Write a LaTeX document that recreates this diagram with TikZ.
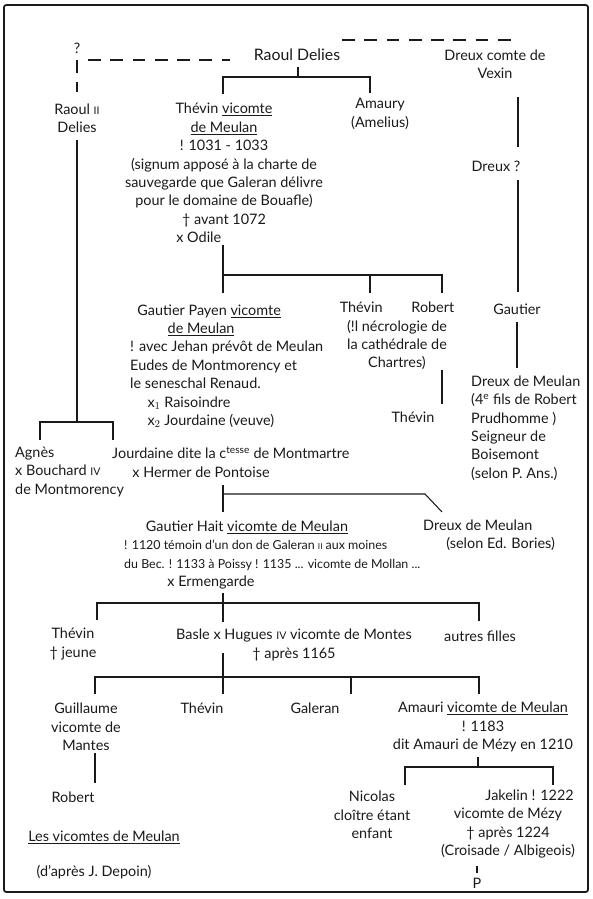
\documentclass[tikz,border=0pt]{standalone}
\usepackage{fontspec}
\setmainfont{Lato}
\definecolor{inkline}{HTML}{1A1A1A}
\newcommand{\notesize}{\fontsize{10.6}{15.7}\selectfont}

\begin{document}
\begin{tikzpicture}[
  x=0.03cm,
  y=-0.03cm,
  every node/.style={inner sep=0pt, text=inkline, font=\fontsize{12.3}{15.7}\selectfont},
  person/.style={align=center},
  lperson/.style={align=left, anchor=west},
  link/.style={draw=inkline, line width=0.9pt},
  unsure/.style={link, dash pattern=on 11pt off 8pt}
]
  \useasboundingbox[fill=white] (0,0) rectangle (593,899);
  \draw[inkline, line width=1.5pt, rounded corners=2pt] (4,5) rectangle (588,892);

  % --- generation of Raoul Delies
  \node (q) at (77,48) {?};
  \node (raoulD) at (297,55) {\fontsize{13.5}{15.7}\selectfont Raoul Delies};
  \node[person] (dreuxV) at (495,64) {Dreux comte de\\Vexin};
  \node[person] (raoul2) at (77,118) {Raoul {\small II}\\Delies};
  \node[person] (thevinA) at (224,173) {Thévin \underline{vicomte}\\\underline{de Meulan}\\! 1031 - 1033\\(signum apposé à la charte de\\sauvegarde que Galeran délivre\\pour le domaine de Bouafle)\\† avant 1072\\x Odile\hspace*{3.5em}};
  \node[person] (amaury) at (380,114) {Amaury\\(Amelius)};
  \node (dreuxQ) at (496,166) {Dreux ?};
  \node (gautier) at (517,309) {Gautier};

  % --- children of Thevin
  \node[lperson] (gpayen) at (130,366) {\hspace*{0.5em}Gautier Payen \underline{vicomte}\\\hspace*{2.6em}\underline{de Meulan}\\! avec Jehan prévôt de Meulan\\Eudes de Montmorency et\\le seneschal Renaud.\\\hspace*{1.2em}x$_1$ Raisoindre\\\hspace*{1.2em}x$_2$ Jourdaine (veuve)};
  \node[person] (thevinR) at (397,336) {Thévin\hspace{2em}Robert\\(!l nécrologie de\\la cathédrale de\\Chartres)};
  \node (thevinC) at (413,417) {Thévin};
  \node[lperson] (dreuxM) at (471,428) {Dreux de Meulan\\(4\textsuperscript{e} fils de Robert\\Prudhomme )\\Seigneur de\\Boisemont\\(selon P. Ans.)};

  % --- children of Raoul II
  \node[lperson] (agnes) at (15,472) {Agnès\\x Bouchard {\small IV}\\de Montmorency};
  \node[lperson] (jourd) at (112,462) {Jourdaine dite la c\textsuperscript{tesse} de Montmartre\\\hspace*{1.4em}x Hermer de Pontoise};

  % --- Gautier Hait
  \node[lperson] (ghait) at (124,555) {\hspace*{1.5em}Gautier Hait \underline{vicomte de Meulan}\\{\notesize ! 1120 témoin d'un don de Galeran {\scriptsize II} aux moines}\\{\notesize du Bec. ! 1133 à Poissy ! 1135 ... vicomte de Mollan ...}\\\hspace*{3em}x Ermengarde};
  \node[lperson] (dreuxB) at (423,535) {Dreux de Meulan\\\hspace*{1.6em}(selon Ed. Bories)};

  \node[person] (thevinD) at (73,644) {Thévin\\† jeune};
  \node[person] (basle) at (294,645) {Basle x Hugues {\small IV} vicomte de Montes\\† après 1165};
  \node (autres) at (480,636) {autres filles};

  % --- children of Basle
  \node[person] (guill) at (86,727) {Guillaume\\vicomte de\\Mantes};
  \node (robertG) at (73,797) {Robert};
  \node (thevinE) at (202,708) {Thévin};
  \node (galeran) at (315,708) {Galeran};
  \node[person] (amauri) at (483,727) {Amauri \underline{vicomte de Meulan}\\! 1183\hspace*{4.2em}\\dit Amauri de Mézy en 1210};
  \node[person] (nicolas) at (372,815) {Nicolas\\cloître étant\\enfant};
  \node[person] (jakelin) at (508,824) {\hspace*{3em}Jakelin ! 1222\\vicomte de Mézy\\† après 1224\\(Croisade / Albigeois)};
  \node (pp) at (477,883) {P};

  \node (title) at (104,837) {\underline{Les vicomtes de Meulan}};
  \node (source) at (94,872) {(d'après J. Depoin)};

  % --- uncertain links
  \coordinate (qEast) at (88,60);
  \coordinate (rdWest) at (230,60);
  \coordinate (qFoot) at (77,60);
  \coordinate (r2Head) at (77,92);
  \coordinate (dvLeft) at (342,40);
  \coordinate (dvRight) at (515,40);
  \draw[unsure] (qEast) -- (rdWest);
  \draw[unsure] (qFoot) -- (r2Head);
  \draw[unsure] (dvLeft) -- (dvRight);

  % --- Raoul Delies -> Thevin, Amaury
  \coordinate (rdBar) at (0,77);
  \coordinate (rdFoot) at (298,67);
  \coordinate (thHead) at (223,94);
  \coordinate (amHead) at (370,93);
  \draw[link] (rdFoot) -- (rdFoot |- rdBar);
  \draw[link] (thHead) |- (amHead |- rdBar) -- (amHead);

  % --- Vexin line
  \coordinate (dvFoot) at (518,97);
  \coordinate (dqHead) at (518,147);
  \coordinate (dqFoot) at (518,180);
  \coordinate (gaHead) at (518,292);
  \coordinate (gaFoot) at (517,322);
  \coordinate (dmHead) at (517,368);
  \draw[link] (dvFoot) -- (dqHead);
  \draw[link] (dqFoot) -- (gaHead);
  \draw[link] (gaFoot) -- (dmHead);

  % --- Raoul II -> Agnes, Jourdaine
  \coordinate (r2Foot) at (77,140);
  \coordinate (r2Bar) at (0,422);
  \coordinate (agHead) at (40,440);
  \coordinate (joHead) at (113,440);
  \draw[link] (r2Foot) -- (r2Foot |- r2Bar);
  \draw[link] (agHead) |- (joHead |- r2Bar) -- (joHead);

  % --- Thevin -> Gautier Payen, Thevin, Robert
  \coordinate (thFoot) at (223,245);
  \coordinate (thBar) at (0,275);
  \coordinate (gpHead) at (223,293);
  \coordinate (tvHead) at (370,293);
  \coordinate (roHead) at (442,293);
  \draw[link] (thFoot) -- (gpHead);
  \draw[link] (gpHead |- thBar) -| (roHead);
  \draw[link] (tvHead |- thBar) -- (tvHead);
  \coordinate (roFoot) at (442,370);
  \coordinate (tcHead) at (442,404);
  \draw[link] (roFoot) -- (tcHead);

  % --- Jourdaine -> Gautier Hait, Dreux
  \coordinate (joFoot) at (223,485);
  \coordinate (joBar) at (0,494);
  \coordinate (joBend) at (425,494);
  \coordinate (ghHead) at (223,512);
  \coordinate (dbHead) at (442,512);
  \draw[link] (joFoot) -- (ghHead);
  \draw[link] (joFoot |- joBar) -- (joBend) -- (dbHead);

  % --- Gautier Hait -> Thevin, Basle, autres filles
  \coordinate (ghFoot) at (223,593);
  \coordinate (ghBar) at (0,603);
  \coordinate (tdHead) at (97,620);
  \coordinate (baHead) at (223,622);
  \coordinate (afHead) at (479,621);
  \draw[link] (ghFoot) -- (baHead);
  \draw[link] (tdHead) |- (afHead |- ghBar) -- (afHead);

  % --- Basle -> Guillaume, Thevin, Galeran, Amauri
  \coordinate (baFoot) at (223,653);
  \coordinate (baBar) at (0,677);
  \coordinate (guHead) at (95,694);
  \coordinate (teHead) at (223,694);
  \coordinate (glHead) at (351,694);
  \coordinate (auHead) at (479,694);
  \draw[link] (baFoot) -- (teHead);
  \draw[link] (guHead) |- (auHead |- baBar) -- (auHead);
  \draw[link] (glHead |- baBar) -- (glHead);
  \coordinate (guFoot) at (95,753);
  \coordinate (rgHead) at (95,783);
  \draw[link] (guFoot) -- (rgHead);

  % --- Amauri -> Nicolas, Jakelin
  \coordinate (auFoot) at (478,757);
  \coordinate (auBar) at (0,767);
  \coordinate (niHead) at (405,785);
  \coordinate (jaHead) at (553,785);
  \draw[link] (auFoot) -- (auFoot |- auBar);
  \draw[link] (niHead) |- (jaHead |- auBar) -- (jaHead);
  \coordinate (jaFoot) at (477,866);
  \coordinate (ppTop) at (477,873);
  \draw[link] (jaFoot) -- (ppTop);
\end{tikzpicture}
\end{document}
